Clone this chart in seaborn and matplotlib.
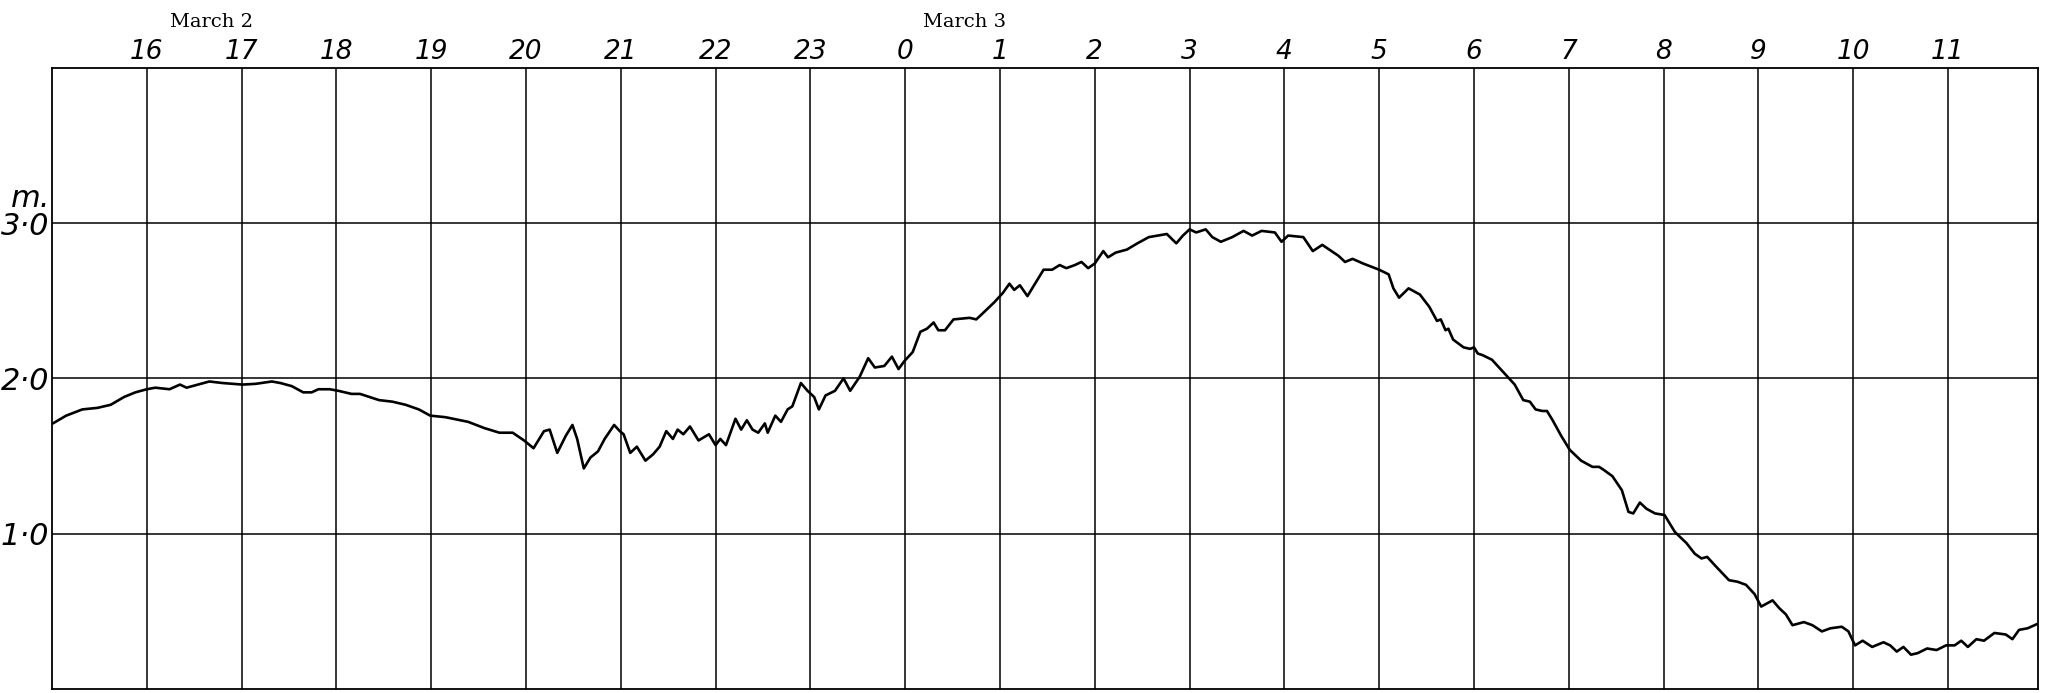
import matplotlib
matplotlib.use("Agg")
import matplotlib.pyplot as plt
import numpy as np
import pandas as pd
import seaborn as sns

# ---- data: hours counted from March 2, 0h ; water level in metres ----
hours = [
    15.01, 15.15, 15.32, 15.48, 15.62, 15.76, 15.88, 16.00, 16.09, 16.24, 16.35, 16.42,
    16.54, 16.66, 16.80, 17.01, 17.15, 17.32, 17.41, 17.53, 17.65, 17.74, 17.81, 17.93,
    18.02, 18.16, 18.25, 18.45, 18.59, 18.73, 18.87, 18.99, 19.15, 19.39, 19.56, 19.72,
    19.86, 19.98, 20.08, 20.19, 20.25, 20.33, 20.42, 20.49, 20.54, 20.61, 20.68, 20.76,
    20.83, 20.93, 20.99, 21.03, 21.10, 21.17, 21.26, 21.34, 21.41, 21.48, 21.55, 21.60,
    21.66, 21.73, 21.82, 21.93, 22.00, 22.05, 22.11, 22.21, 22.27, 22.33, 22.39, 22.45,
    22.52, 22.55, 22.63, 22.69, 22.76, 22.81, 22.90, 22.97, 23.04, 23.09, 23.16, 23.26,
    23.35, 23.42, 23.52, 23.61, 23.68, 23.78, 23.86, 23.93, 23.99, 24.08, 24.16, 24.23,
    24.30, 24.35, 24.42, 24.51, 24.68, 24.75, 24.82, 24.94, 25.03, 25.10, 25.15, 25.21,
    25.29, 25.39, 25.46, 25.55, 25.63, 25.70, 25.79, 25.86, 25.93, 26.00, 26.09, 26.14,
    26.22, 26.34, 26.45, 26.57, 26.76, 26.86, 26.93, 27.00, 27.07, 27.17, 27.24, 27.33,
    27.45, 27.57, 27.66, 27.76, 27.90, 27.97, 28.04, 28.20, 28.30, 28.40, 28.57, 28.64,
    28.72, 28.83, 29.00, 29.10, 29.15, 29.21, 29.26, 29.31, 29.43, 29.53, 29.61, 29.65,
    29.70, 29.73, 29.78, 29.89, 29.96, 30.00, 30.04, 30.09, 30.19, 30.25, 30.34, 30.43,
    30.52, 30.59, 30.65, 30.72, 30.77, 30.83, 30.92, 31.01, 31.13, 31.25, 31.32, 31.37,
    31.46, 31.56, 31.63, 31.68, 31.75, 31.82, 31.91, 32.01, 32.12, 32.24, 32.33, 32.40,
    32.46, 32.55, 32.69, 32.78, 32.87, 32.96, 33.03, 33.15, 33.22, 33.29, 33.36, 33.48,
    33.57, 33.67, 33.76, 33.88, 33.95, 34.02, 34.10, 34.20, 34.32, 34.39, 34.46, 34.53,
    34.61, 34.68, 34.78, 34.88, 34.98, 35.07, 35.14, 35.21, 35.30, 35.38, 35.49, 35.61,
    35.68, 35.75, 35.84, 35.95,
]
level_m = [
    1.71, 1.76, 1.80, 1.81, 1.83, 1.88, 1.91, 1.93, 1.94, 1.93, 1.96, 1.94,
    1.96, 1.98, 1.97, 1.96, 1.965, 1.98, 1.97, 1.95, 1.91, 1.91, 1.93, 1.93,
    1.92, 1.90, 1.90, 1.86, 1.85, 1.83, 1.80, 1.76, 1.75, 1.72, 1.68, 1.65,
    1.65, 1.60, 1.55, 1.66, 1.67, 1.52, 1.63, 1.70, 1.61, 1.42, 1.49, 1.53,
    1.61, 1.70, 1.66, 1.64, 1.52, 1.56, 1.47, 1.51, 1.56, 1.66, 1.61, 1.67,
    1.64, 1.69, 1.60, 1.64, 1.57, 1.61, 1.57, 1.74, 1.67, 1.73, 1.67, 1.65,
    1.71, 1.65, 1.76, 1.72, 1.80, 1.82, 1.97, 1.92, 1.88, 1.80, 1.89, 1.92,
    2.00, 1.92, 2.01, 2.13, 2.07, 2.08, 2.14, 2.06, 2.11, 2.17, 2.30, 2.32,
    2.36, 2.31, 2.31, 2.38, 2.39, 2.38, 2.42, 2.49, 2.55, 2.61, 2.57, 2.60,
    2.53, 2.63, 2.70, 2.70, 2.73, 2.71, 2.73, 2.75, 2.71, 2.74, 2.82, 2.78,
    2.81, 2.83, 2.87, 2.91, 2.93, 2.87, 2.92, 2.96, 2.94, 2.96, 2.91, 2.88,
    2.91, 2.95, 2.92, 2.95, 2.94, 2.88, 2.92, 2.91, 2.82, 2.86, 2.79, 2.75,
    2.77, 2.74, 2.70, 2.67, 2.58, 2.52, 2.55, 2.58, 2.54, 2.46, 2.37, 2.38,
    2.31, 2.32, 2.25, 2.20, 2.19, 2.20, 2.16, 2.15, 2.12, 2.08, 2.02, 1.96,
    1.86, 1.85, 1.80, 1.79, 1.79, 1.73, 1.63, 1.54, 1.47, 1.43, 1.43, 1.41,
    1.37, 1.28, 1.14, 1.13, 1.20, 1.16, 1.13, 1.12, 1.01, 0.94, 0.87, 0.84,
    0.85, 0.79, 0.70, 0.69, 0.67, 0.61, 0.53, 0.57, 0.52, 0.48, 0.41, 0.43,
    0.41, 0.37, 0.39, 0.40, 0.37, 0.28, 0.31, 0.27, 0.30, 0.28, 0.24, 0.27,
    0.22, 0.23, 0.26, 0.25, 0.28, 0.28, 0.31, 0.27, 0.32, 0.31, 0.36, 0.35,
    0.32, 0.38, 0.39, 0.42,
]
hour_ticks = list(range(16, 36))
hour_labels = [str(h % 24) for h in hour_ticks]
level_ticks = [1, 2, 3]
level_labels = ["1·0", "2·0", "3·0"]
date_labels = ["March 2", "March 3"]
date_label_hours = [16.68, 24.63]
unit_label = "m."

sns.set_theme(style="white")
plt.rcParams["font.family"] = ["DejaVu Sans"]

fig = plt.figure(figsize=(20.46, 6.93), dpi=100)
ax = fig.add_axes([0.0254, 0.006, 0.9707, 0.896])

df = pd.DataFrame({"hour": hours, "level": level_m})
sns.lineplot(data=df, x="hour", y="level", ax=ax, color="black",
             linewidth=1.9, estimator=None, sort=False)

ax.set_xlim(15, 35.95)
ax.set_ylim(0, 4)
ax.set_xlabel("")
ax.set_ylabel("")

ax.xaxis.tick_top()
ax.set_xticks(hour_ticks)
ax.set_xticklabels(hour_labels, fontstyle="italic", fontsize=19, color="black")
ax.set_yticks(level_ticks)
ax.set_yticklabels(level_labels, fontstyle="italic", fontsize=22, color="black")
ax.tick_params(axis="x", length=0, pad=2)
ax.tick_params(axis="y", length=0, pad=2)

ax.grid(True, color="black", linewidth=1.1)
ax.set_axisbelow(True)
for s in ax.spines.values():
    s.set_visible(True)
    s.set_color("black")
    s.set_linewidth(1.3)

fig.text(0.0244, 0.714, unit_label, fontstyle="italic", fontsize=22,
         ha="right", va="center", color="black")

for lab, hx in zip(date_labels, date_label_hours):
    ax.text(hx, 1.074, lab, transform=ax.get_xaxis_transform(), ha="center",
            va="center", fontsize=14, family="DejaVu Serif", color="black",
            clip_on=False)

fig.savefig("out.png", dpi=100, facecolor="white")
